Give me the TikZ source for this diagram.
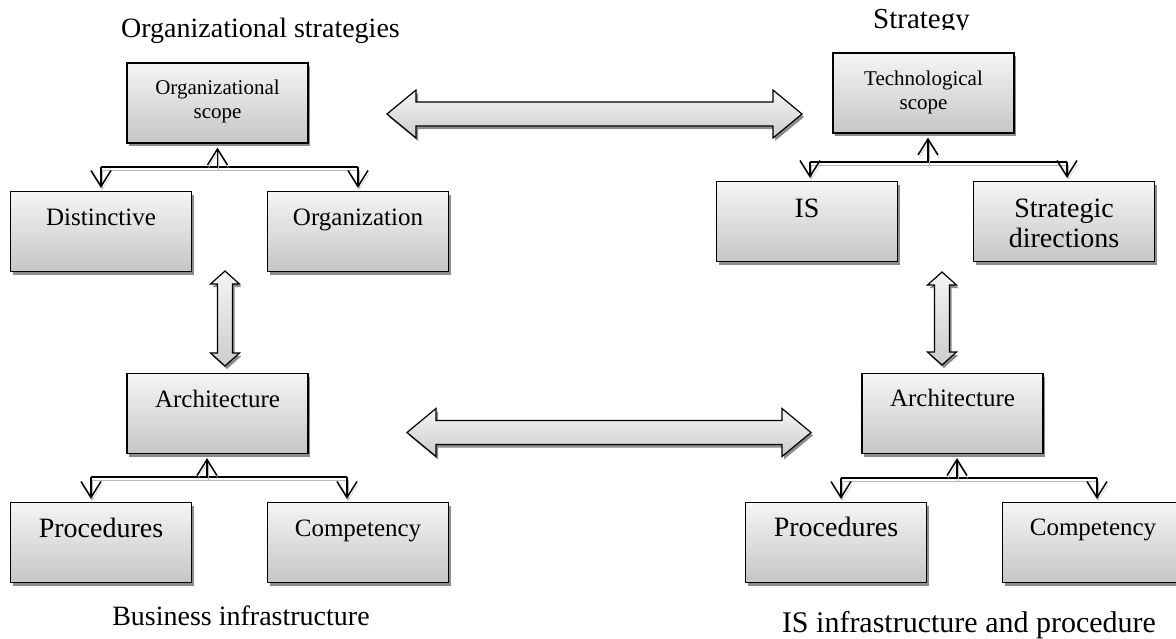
\documentclass[tikz,border=0pt]{standalone}
\usepackage{fontspec}
\setmainfont{Liberation Serif}
\usetikzlibrary{arrows.meta,calc,positioning,shadows}

\tikzset{
  cell/.style={draw, line width=1.2pt, top color=gray!8, bottom color=gray!45,
    minimum width=181pt, minimum height=80pt, inner sep=0pt,
    drop shadow={shadow xshift=2pt, shadow yshift=-3pt, fill=black!45, opacity=1}},
  block/.style={draw, line width=1.2pt, top color=gray!8, bottom color=gray!40,
    drop shadow={shadow xshift=2pt, shadow yshift=-3pt, fill=black!45, opacity=1}},
  link/.style={line width=1.5pt,
    preaction={draw=gray!55, transform canvas={xshift=1pt, yshift=-3pt}}},
  vtip/.style={-{Straight Barb[length=16pt,width=20pt]}, shorten >=3pt},
  lbl/.style={inner sep=0pt, anchor=base},
  lbltwo/.style={inner sep=0pt, anchor=north, align=center},
  szS/.style={font=\fontsize{21}{24}\selectfont},
  szM/.style={font=\fontsize{25}{29}\selectfont},
  szL/.style={font=\fontsize{28}{30}\selectfont},
  szXL/.style={font=\fontsize{30}{34}\selectfont}
}

% double block arrows, between two tips
\newcommand{\hblock}[2]{%
  \draw[block] (#1) -- ++(29,-24) -- ++(0,12) -- ($(#2)+(-29,-12)$) -- ++(0,-12)
    -- (#2) -- ++(-29,24) -- ++(0,-12) -- ($(#1)+(29,12)$) -- ++(0,12) -- cycle;}
\newcommand{\vblock}[2]{%
  \draw[block] (#1) -- ++(14.5,13) -- ++(-7,0) -- ($(#2)+(7.5,-13)$) -- ++(7,0)
    -- (#2) -- ++(-14.5,-13) -- ++(7,0) -- ($(#1)+(-7.5,13)$) -- ++(-7,0) -- cycle;}

\begin{document}
\begin{tikzpicture}[x=1pt,y=-1pt]
  \useasboundingbox (0,0) rectangle (1176,638);

  % titles
  \node[lbl, szL] (orgtitle) at (260.5,37) {Organizational strategies};
  \begin{scope}
    \clip (840,0) rectangle (1010,29.5);
    \node[lbl, font=\fontsize{29}{32}\selectfont] (techtitle) at (921.5,28) {Strategy};
  \end{scope}
  \node[lbl, szL] (bustitle) at (241,625) {Business infrastructure};
  \node[lbl, szXL] (istitle) at (969,632) {IS infrastructure and procedure};

  % boxes
  \node[cell] (orgscope)  at (217.5,103)  {};
  \node[cell] (distinct)  at (101,231.5)  {};
  \node[cell] (organiz)   at (358,231.5)  {};
  \node[cell] (archL)     at (217.5,413.5) {};
  \node[cell] (procL)     at (101,542.5)  {};
  \node[cell] (compL)     at (358,542.5)  {};
  \node[cell] (techscope) at (923.5,93)   {};
  \node[cell] (isbox)     at (807,221.5)  {};
  \node[cell] (stratdir)  at (1064,221.5) {};
  \node[cell] (archR)     at (952.5,413.5) {};
  \node[cell] (procR)     at (836,542.5)  {};
  \node[cell] (compR)     at (1093,542.5) {};

  % box texts, hung from the top edge
  \node[lbltwo, szS] (orgscope-t)  at ($(orgscope.north)+(0,17)$)  {Organizational\\scope};
  \node[lbltwo, szS] (techscope-t) at ($(techscope.north)+(0,18)$) {Technological\\scope};
  \node[lbltwo, szL] (stratdir-t)  at ($(stratdir.north)+(0,18)$)  {Strategic\\directions};
  \node[lbl, szM] (distinct-t) at ($(distinct.north)+(0,35)$) {Distinctive};
  \node[lbl, szM] (organiz-t)  at ($(organiz.north)+(0,35)$)  {Organization};
  \node[lbl, szL] (isbox-t)    at ($(isbox.north)+(0,37)$)    {IS};
  \node[lbl, szM] (archL-t)    at ($(archL.north)+(0,35)$)    {Architecture};
  \node[lbl, szM] (archR-t)    at ($(archR.north)+(0,34)$)    {Architecture};
  \node[lbl, szL] (procL-t)    at ($(procL.north)+(0,36)$)    {Procedures};
  \node[lbl, szL] (procR-t)    at ($(procR.north)+(0,35)$)    {Procedures};
  \node[lbl, szM] (compL-t)    at ($(compL.north)+(0,35)$)    {Competency};
  \node[lbl, szM] (compR-t)    at ($(compR.north)+(0,34)$)    {Competency};

  % tree connectors: parent / left child / right child / up x / left x / right x / bar y
  \foreach \pa/\ka/\kb/\ux/\lx/\rx/\by in {orgscope/distinct/organiz/217.5/101/358/167,
      techscope/isbox/stratdir/928/810/1067/162,
      archL/procL/compL/207/91/347/477,
      archR/procR/compR/957/841/1097/478}{
    \coordinate (u) at (\ux,\by);
    \coordinate (l) at (\lx,\by);
    \coordinate (r) at (\rx,\by);
    \draw[link] (l) -- (r);
    \draw[link, vtip, shorten >=4pt] (u) -- (u |- \pa.south);
    \draw[link, vtip] (l) -- (l |- \ka.north);
    \draw[link, vtip] (r) -- (r |- \kb.north);
  }

  % block arrows between the four groups
  \coordinate (stratL) at (387,114);
  \coordinate (stratR) at (802,114);
  \coordinate (infraL) at (407,432.5);
  \coordinate (infraR) at (811,432.5);
  \coordinate (alignLt) at (225,271);
  \coordinate (alignLb) at (225,366);
  \coordinate (alignRt) at (942,272);
  \coordinate (alignRb) at (942,365);
  \hblock{stratL}{stratR}
  \hblock{infraL}{infraR}
  \vblock{alignLt}{alignLb}
  \vblock{alignRt}{alignRb}
\end{tikzpicture}
\end{document}
